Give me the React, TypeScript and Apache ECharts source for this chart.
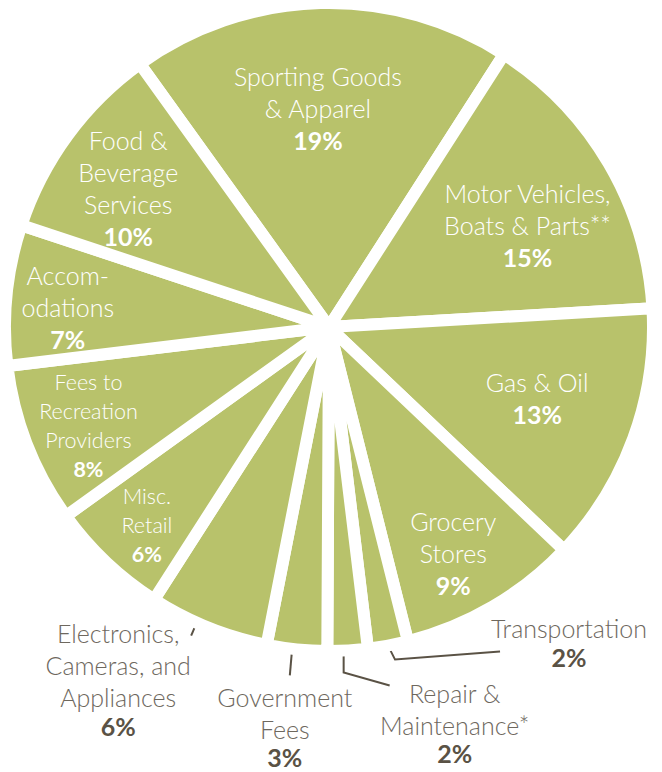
import React, { useEffect, useRef } from "react";
import * as echarts from "echarts";

// ---- data ----
const categories: string[] = [
  "Sporting Goods\n& Apparel",
  "Motor Vehicles,\nBoats & Parts**",
  "Gas & Oil",
  "Grocery\nStores",
  "Transportation",
  "Repair &\nMaintenance*",
  "Government\nFees",
  "Electronics,\nCameras, and\nAppliances",
  "Misc.\nRetail",
  "Fees to\nRecreation\nProviders",
  "Accom-\nodations",
  "Food &\nBeverage\nServices",
];
const values: number[] = [19, 15, 13, 9, 2, 2, 3, 6, 6, 8, 7, 10];

// ---- layout / style ----
const CX = 329;
const CY = 327;
const R = 324;
const START = 125.7;
const GREEN = "#b8c26b";
const OUT_TEXT = "#6e685e";
const OUT_PCT = "#5a5245";
const FONT = "Lato, 'Open Sans', sans-serif";

// inside labels: [distance from centre px, angle tweak deg]; null = outside label
const insidePos: ([number, number] | null)[] = [
  [219, -1.4], [223, 3.2], [220, -1.2], [258, 1.5], null, null, null, null,
  [269, -0.9], [260, -1.0], [262, -1.3], [244, -1.7],
];
const smallLabel: boolean[] = [false, false, false, false, false, false, false, false, true, true, false, false];
// outside label geometry, offsets relative to the slice's outer-edge point
const outsideLayout: Record<number, { line: number[][]; label: number[] }> = {
  4: { line: [[0, 0], [7, 14], [112, 6]], label: [181, -5] },
  5: { line: [[-4, 5], [-4, 22], [42, 35]], label: [107, 71] },
  6: { line: [[-5, 3], [-7, 26]], label: [-12, 76] },
  7: { line: [[-11, -6], [-17, 8]], label: [-90, 50] },
};

function midAngles(): number[] {
  const total = values.reduce((a, b) => a + b, 0);
  let cum = 0;
  return values.map((v) => {
    const a = 90 - START + (360 * (cum + v / 2)) / total;
    cum += v;
    return a;
  });
}

export default function App() {
  const ref = useRef<HTMLDivElement>(null);
  useEffect(() => {
    if (!ref.current) return;
    const chart = echarts.init(ref.current, undefined, { renderer: "svg" });
    const mids = midAngles();

    const data = values.map((v, i) => {
      const inside = insidePos[i] != null;
      const small = smallLabel[i];
      const fs = small ? 21.5 : 25;
      const lh = small ? 29 : 32;
      return {
        name: categories[i],
        value: v,
        label: {
          position: "outside",
          formatter: `{n|${categories[i]}}\n{p|${v}%}`,
          rich: {
            n: {
              fontFamily: FONT,
              fontWeight: 300,
              fontSize: fs,
              lineHeight: lh,
              color: inside ? "#ffffff" : OUT_TEXT,
              align: "center",
            },
            p: {
              fontFamily: FONT,
              fontWeight: 700,
              fontSize: fs,
              lineHeight: inside ? lh : 25,
              color: inside ? "#ffffff" : OUT_PCT,
              align: "center",
            },
          },
        },
        labelLine: {
          show: !inside,
          lineStyle: { color: OUT_PCT, width: 2 },
        },
      };
    });

    chart.setOption({
      animation: false,
      series: [
        {
          type: "pie",
          center: [CX, CY],
          radius: [0, R],
          startAngle: START,
          clockwise: true,
          avoidLabelOverlap: false,
          silent: true,
          itemStyle: {
            color: GREEN,
            borderColor: "#ffffff",
            borderWidth: 12,
            borderJoin: "round",
          },
          emphasis: { disabled: true },
          labelLine: { show: true, length: 10, length2: 10 },
          labelLayout: (params: any) => {
            const i = params.dataIndex;
            const ip = insidePos[i];
            if (ip) {
              const a = ((mids[i] + ip[1]) * Math.PI) / 180;
              return {
                x: CX + ip[0] * Math.sin(a),
                y: CY - ip[0] * Math.cos(a),
                align: "center",
                verticalAlign: "middle",
              };
            }
            const a = (mids[i] * Math.PI) / 180;
            const p0x = CX + R * Math.sin(a);
            const p0y = CY - R * Math.cos(a);
            const o = outsideLayout[i];
            return {
              x: p0x + o.label[0],
              y: p0y + o.label[1],
              align: "center",
              verticalAlign: "middle",
              labelLinePoints: o.line.map((p) => [p0x + p[0], p0y + p[1]]),
            };
          },
          data,
        },
      ],
    });
    return () => chart.dispose();
  }, []);
  return (
    <div
      ref={ref}
      style={{ position: "fixed", left: 0, top: 0, width: 662, height: 772, background: "#ffffff" }}
    />
  );
}
